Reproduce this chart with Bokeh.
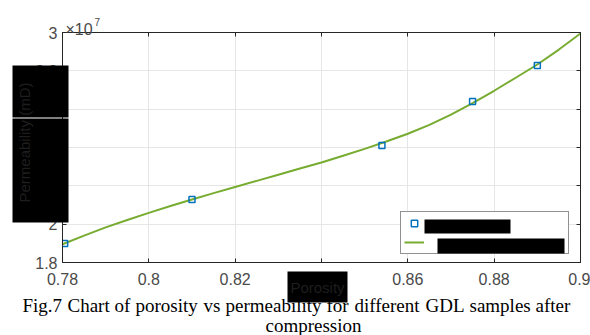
from bokeh.plotting import figure
from bokeh.models import (Range1d, FixedTicker, LinearAxis, CustomJSTickFormatter,
                          Legend, LegendItem, GridBox, Column)
from bokeh.core.properties import value
from bokeh.embed import file_html
from bokeh.resources import INLINE

# ---- data (permeability in units of 1e7 mD) ----
porosity = [0.7805, 0.810, 0.854, 0.875, 0.890]
permeability = [1.899, 2.129, 2.410, 2.640, 2.828]

fit_porosity = [0.780, 0.785, 0.790, 0.795, 0.800, 0.805, 0.810, 0.815, 0.820,
                0.825, 0.830, 0.835, 0.840, 0.845, 0.850, 0.855, 0.860, 0.865,
                0.870, 0.875, 0.880, 0.885, 0.890, 0.895, 0.900]
fit_permeability = [1.895, 1.940, 1.983, 2.022, 2.059, 2.095, 2.129, 2.162, 2.194,
                    2.226, 2.258, 2.290, 2.322, 2.357, 2.393, 2.431, 2.472, 2.518,
                    2.572, 2.632, 2.696, 2.764, 2.833, 2.911, 2.995]

x_ticks = [0.78, 0.80, 0.82, 0.84, 0.86, 0.88, 0.90]
y_ticks = [1.8, 2.0, 2.2, 2.4, 2.6, 2.8, 3.0]

legend_labels = ["Experimental", "Polynomial fitting curve"]
y_label = "Permeability (mD)"
x_label = "Porosity"
exponent_base = "\u00d710"
exponent_power = "7"
caption_words = ["Fig.7", "Chart", "of", "porosity", "vs", "permeability", "for",
                 "different", "GDL", "samples", "after", "compression"]

# page-pixel placement of the annotation layer (layout, not data)
caption_x = [22, 67, 114, 135, 203, 225, 326, 354, 425, 469, 535, 265]
caption_y = [305] * 11 + [325]
redact_left = [12, 12, 287, 424, 437]
redact_right = [68, 68, 347, 510, 564]
redact_top = [65, 118, 271, 219, 238]
redact_bottom = [117, 222, 302, 233, 253]

AX = "#4a4a4a"
FONT = "Liberation Sans"

fmt = CustomJSTickFormatter(code="return tick.toFixed(2).replace(/0+$/,'').replace(/\\.$/,'')")

W, H = 590, 335
p = figure(width=W, height=H, x_range=Range1d(0.78, 0.90), y_range=Range1d(1.8, 3.0),
           output_backend="svg", toolbar_location=None,
           min_border_left=62, min_border_right=10, min_border_top=32, min_border_bottom=73)
p.background_fill_color = "white"
p.border_fill_color = "white"
p.outline_line_color = "#262626"
p.outline_line_width = 1

for ax, ticks in ((p.xaxis[0], x_ticks), (p.yaxis[0], y_ticks)):
    ax.ticker = FixedTicker(ticks=ticks)
    ax.formatter = fmt
    ax.major_tick_in = 4
    ax.major_tick_out = 0
    ax.minor_tick_line_color = None
    ax.axis_line_color = "#262626"
    ax.major_tick_line_color = "#262626"
    ax.major_label_text_font = FONT
    ax.major_label_text_font_size = "16px"
    ax.major_label_text_color = AX
p.xaxis[0].major_label_standoff = 10
p.yaxis[0].major_label_standoff = 5

for place, ticks in (("above", x_ticks), ("right", y_ticks)):
    mirror = LinearAxis(ticker=FixedTicker(ticks=ticks), major_label_text_font_size="0px",
                        major_label_text_color=None, major_label_standoff=0,
                        major_tick_in=4, major_tick_out=0, minor_tick_line_color=None,
                        axis_line_color="#262626", major_tick_line_color="#262626")
    p.add_layout(mirror, place)

p.xgrid.ticker = FixedTicker(ticks=x_ticks)
p.ygrid.ticker = FixedTicker(ticks=y_ticks)
p.grid.grid_line_color = "#e6e6e6"
p.grid.grid_line_width = 1

ln = p.line(fit_porosity, fit_permeability, line_color="#77AC30", line_width=2)
sc = p.scatter(porosity, permeability, marker="square", size=6, fill_color=None,
               line_color="#0072BD", line_width=1.5)

legend = Legend(items=[LegendItem(label=legend_labels[0], renderers=[sc]),
                       LegendItem(label=legend_labels[1], renderers=[ln])],
                location=(338, 8), padding=3, spacing=3, margin=0,
                glyph_width=20, glyph_height=16, label_height=16, label_width=127,
                label_standoff=14, border_line_color="#262626", border_line_width=1,
                label_text_font=FONT, label_text_font_size="11px",
                label_text_color="white",
                background_fill_color="white", background_fill_alpha=1)
p.add_layout(legend)

# ---- transparent annotation layer covering the whole page ----
ov = figure(width=W, height=H, x_range=Range1d(0, W), y_range=Range1d(H, 0),
            output_backend="svg", toolbar_location=None, x_axis_type=None, y_axis_type=None,
            min_border=0)
ov.outline_line_color = None
ov.background_fill_alpha = 0
ov.border_fill_alpha = 0
ov.grid.visible = False

ov.quad(left=redact_left, right=redact_right, top=redact_top, bottom=redact_bottom,
        fill_color="black", line_color=None)

# faint text still showing through the redactions
ov.text(x=[24], y=[142], text=[y_label], angle=[1.5708], text_align="center",
        text_baseline="middle", text_font=value(FONT), text_font_size=value("15px"),
        text_color="#1e1e1e")
ov.text(x=[317], y=[287], text=[x_label], text_align="center", text_baseline="middle",
        text_font=value(FONT), text_font_size=value("15px"), text_color="#1e1e1e")

# exponent
ov.text(x=[65], y=[29], text=[exponent_base], text_baseline="alphabetic",
        text_font=value(FONT), text_font_size=value("16px"), text_color=AX)
ov.text(x=[94], y=[21], text=[exponent_power], text_baseline="alphabetic",
        text_font=value(FONT), text_font_size=value("10px"), text_color=AX)

# caption
ov.text(x=caption_x, y=caption_y, text=caption_words, text_baseline="alphabetic",
        text_font=value("Liberation Serif"), text_font_size=value("19px"),
        text_color="black")

layout = GridBox(children=[(p, 0, 0), (Column(children=[ov]), 0, 0)])
open("out.html", "w").write(file_html(layout, INLINE))
